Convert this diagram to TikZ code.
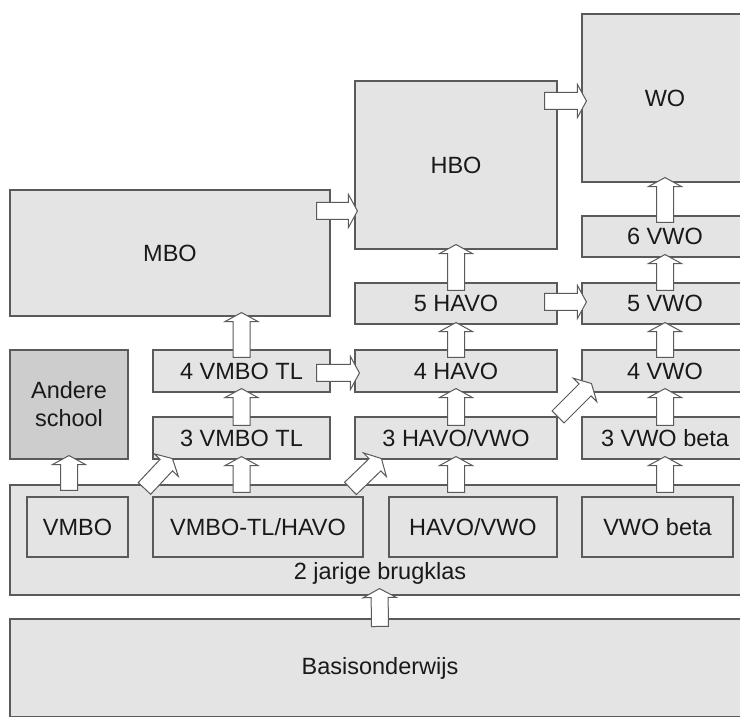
\documentclass[tikz,border=0pt]{standalone}
\usepackage{fontspec}
\setmainfont{Liberation Sans}
\usetikzlibrary{calc}
\definecolor{boxgray}{HTML}{E4E4E4}
\definecolor{darkbox}{HTML}{CDCDCD}
\definecolor{lineg}{HTML}{5A5A5A}
\begin{document}
\begin{tikzpicture}[x=1pt,y=1pt,
    every node/.style={font=\fontsize{23.5pt}{28pt}\selectfont,text=black!90},
    box/.style={draw=lineg,line width=1.1pt,fill=boxgray,inner sep=0pt},
    blk/.style={draw=lineg,fill=white,line width=1pt,
      to path={
        ($(\tikztostart)!8.5pt!90:(\tikztotarget)$)
        -- ($($(\tikztotarget)!9pt!(\tikztostart)$)!8.5pt!90:(\tikztotarget)$)
        -- ($($(\tikztotarget)!9pt!(\tikztostart)$)!16.5pt!90:(\tikztotarget)$)
        -- (\tikztotarget)
        -- ($($(\tikztotarget)!9pt!(\tikztostart)$)!16.5pt!-90:(\tikztotarget)$)
        -- ($($(\tikztotarget)!9pt!(\tikztostart)$)!8.5pt!-90:(\tikztotarget)$)
        -- ($(\tikztostart)!8.5pt!-90:(\tikztotarget)$)
        -- cycle}}]
  \useasboundingbox (0,0) rectangle (740,716);
  % upper blocks
  \node[box,minimum width=320pt,minimum height=126pt] (MBO) at (170,463) {MBO};
  \node[box,minimum width=202pt,minimum height=168pt] (HBO) at (456,551) {HBO};
  \node[box,minimum width=166pt,minimum height=168pt] (WO) at (665,618) {WO};
  \node[box,minimum width=166pt,minimum height=41pt] (V6) at (665,479.5) {6 VWO};
  \node[box,minimum width=166pt,minimum height=41pt] (V5) at (665,412.5) {5 VWO};
  \node[box,minimum width=202pt,minimum height=41pt] (H5) at (456,412.5) {5 HAVO};
  \node[box,minimum width=177pt,minimum height=42pt] (T4) at (241.5,345) {4 VMBO TL};
  \node[box,minimum width=202pt,minimum height=42pt] (H4) at (456,345) {4 HAVO};
  \node[box,minimum width=166pt,minimum height=42pt] (V4) at (665,345) {4 VWO};
  \node[box,minimum width=177pt,minimum height=42pt] (T3) at (241.5,278) {3 VMBO TL};
  \node[box,minimum width=202pt,minimum height=42pt] (H3) at (456,278) {3 HAVO/VWO};
  \node[box,minimum width=166pt,minimum height=42pt] (V3) at (665,278) {3 VWO beta};
  \node[box,fill=darkbox,minimum width=118pt,minimum height=109pt,align=center] (AS) at (69,311.5) {Andere\\school};
  % brugklas and basis
  \node[box,minimum width=739pt,minimum height=110pt] (BK) at (379.5,176) {};
  \node[box,minimum width=101pt,minimum height=60pt] (b1) at (77.5,189) {VMBO};
  \node[box,minimum width=210pt,minimum height=60pt] (b2) at (258,189) {VMBO-TL/HAVO};
  \node[box,minimum width=168pt,minimum height=60pt] (b3) at (473,189) {HAVO/VWO};
  \node[box,minimum width=151pt,minimum height=60pt] (b4) at (657.5,189) {VWO beta};
  \node (BKt) at (380,143) {2 jarige brugklas};
  \node[box,minimum width=740pt,minimum height=98pt] (BO) at (380,48) {Basisonderwijs};
  % vertical arrows
  \draw[blk] ($(BK.north -| AS.south)+(0,-6)$) to ($(AS.south)+(0,4)$);
  \draw[blk] ($(BK.north -| T3.south)+(0,-8)$) to ($(T3.south)+(0,3)$);
  \draw[blk] ($(T3.north)+(0,-9)$) to ($(T4.south)+(0,4)$);
  \draw[blk] ($(T4.north)+(0,-8)$) to ($(MBO.south -| T4.north)+(0,4)$);
  \draw[blk] ($(BK.north -| H3.south)+(0,-8)$) to ($(H3.south)+(0,3)$);
  \draw[blk] ($(H3.north)+(0,-9)$) to ($(H4.south)+(0,4)$);
  \draw[blk] ($(H4.north)+(0,-8)$) to ($(H5.south)+(0,2)$);
  \draw[blk] ($(H5.north)+(0,-8)$) to ($(HBO.south)+(0,5)$);
  \draw[blk] ($(BK.north -| V3.south)+(0,-8)$) to ($(V3.south)+(0,3)$);
  \draw[blk] ($(V3.north)+(0,-9)$) to ($(V4.south)+(0,4)$);
  \draw[blk] ($(V4.north)+(0,-8)$) to ($(V5.south)+(0,2)$);
  \draw[blk] ($(V5.north)+(0,-8)$) to ($(V6.south)+(0,3)$);
  \draw[blk] ($(V6.north)+(0,-7)$) to ($(WO.south)+(0,5)$);
  \draw[blk] ($(BO.north)+(0,-8)$) to ($(BK.south)+(0,7)$);
  % horizontal arrows
  \draw[blk] ($(MBO.east)+(-14,42)$) to ($(HBO.west)+(3,-46)$);
  \draw[blk] ($(HBO.east)+(-13,64)$) to ($(WO.west)+(5,-3)$);
  \draw[blk] ($(T4.east)+(-14,-2)$) to ($(H4.west)+(5,-2)$);
  \draw[blk] ($(H5.east)+(-13,1.5)$) to ($(V5.west)+(5,1.5)$);
  % diagonal arrows
  \draw[blk] ($(BK.north west)+(135,-4)$) to ($(T3.south west)+(20,1)$);
  \draw[blk] ($(BK.north west)+(341,-4)$) to ($(H3.south west)+(27,1)$);
  \draw[blk] ($(H3.north east)+(0.5,-0.5)$) to ($(V4.south west)+(10,9)$);
\end{tikzpicture}
\end{document}
